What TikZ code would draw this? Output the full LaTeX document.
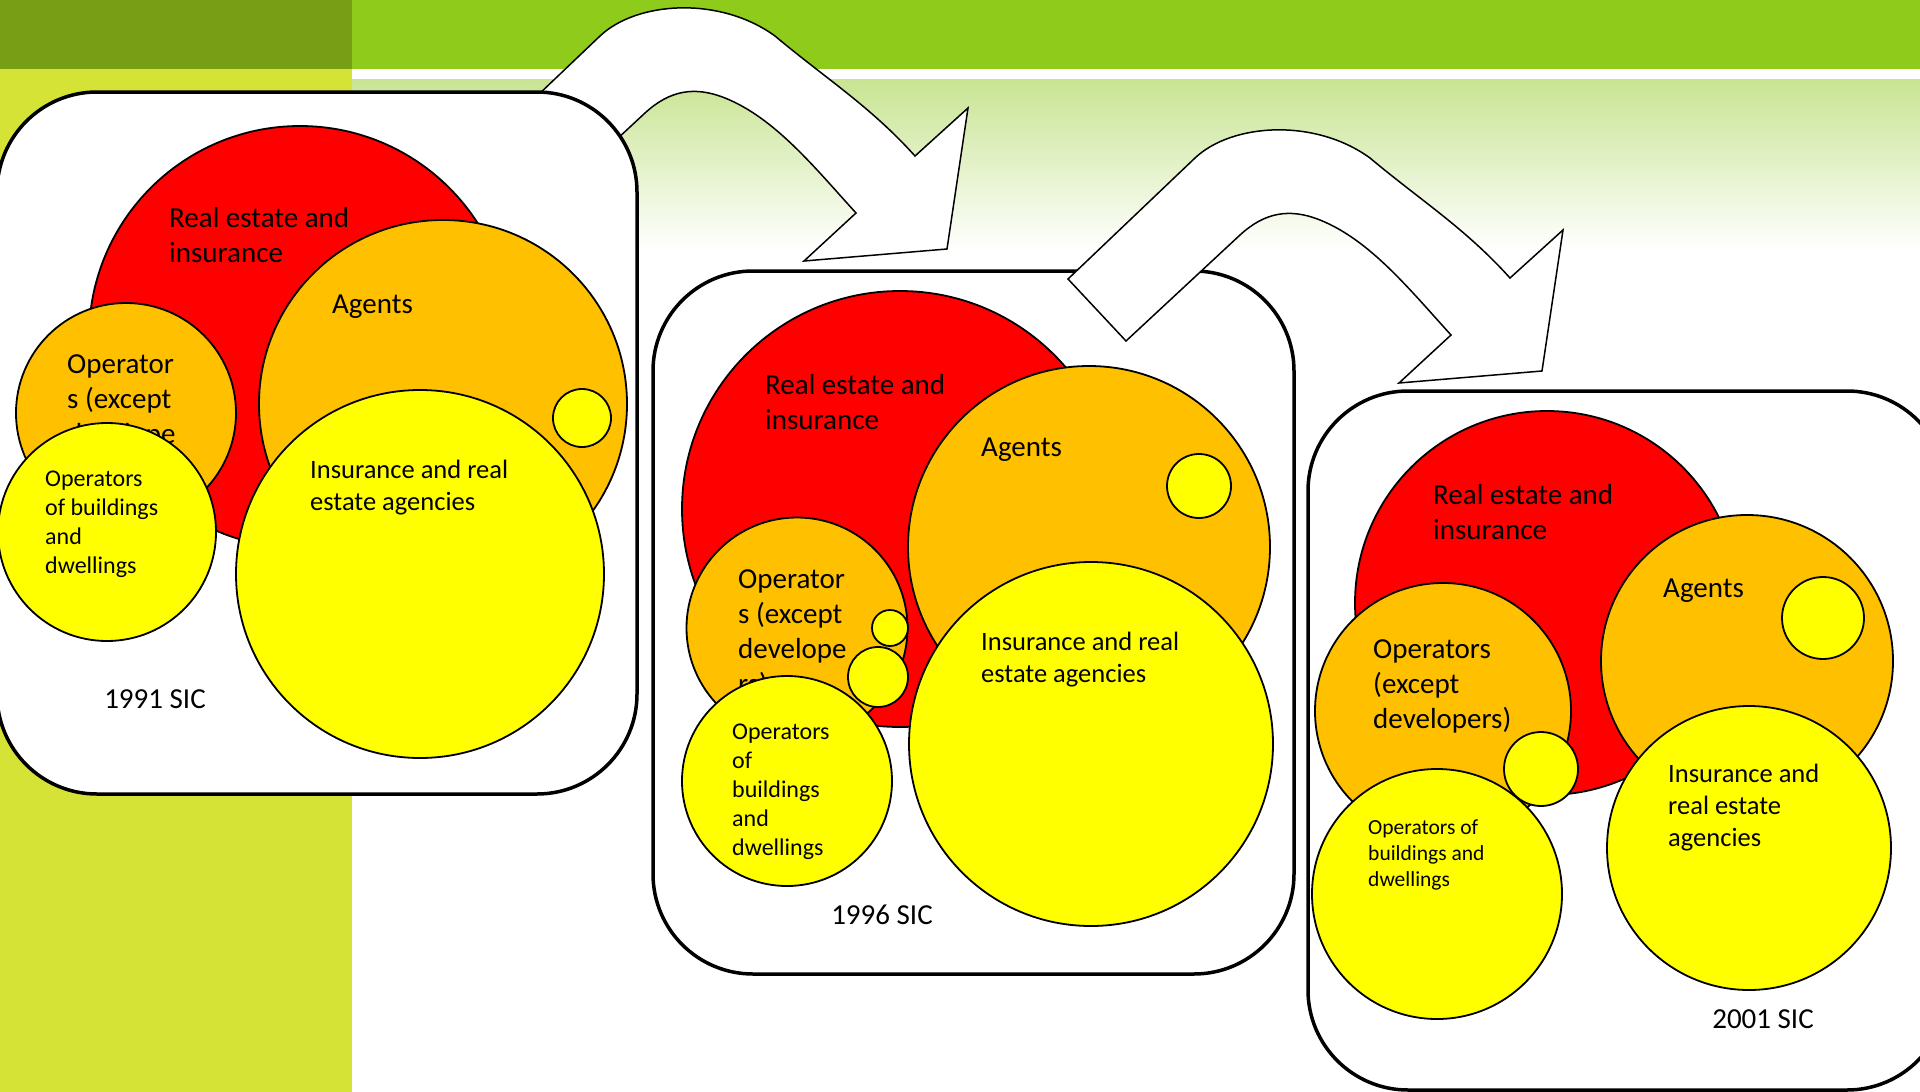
\documentclass[tikz,border=0pt]{standalone}
\usepackage{fontspec}
\setmainfont{Carlito}
\definecolor{olivebar}{RGB}{120,158,22}
\definecolor{limebar}{RGB}{143,203,26}
\definecolor{sidebar}{RGB}{213,227,55}
\definecolor{paleband}{RGB}{200,228,146}
\definecolor{discred}{RGB}{255,0,0}
\definecolor{discorange}{RGB}{255,192,0}
\definecolor{discyellow}{RGB}{255,255,0}
\newcommand\szBig{\fontsize{29}{35}\selectfont}
\newcommand\szMid{\fontsize{26.5}{32}\selectfont}
\newcommand\szSmall{\fontsize{24}{29}\selectfont}
\newcommand\szTiny{\fontsize{21.5}{26}\selectfont}
% multi-line labels are anchored at the baseline of their last line
\tikzset{
  panel/.style={draw=black, line width=3.5pt, fill=white, rounded corners=100pt},
  disc/.style={circle, draw=black, line width=1.8pt, inner sep=0pt, minimum size=#1},
  reddisc/.style={disc=#1, fill=discred},
  orangedisc/.style={disc=#1, fill=discorange},
  yellowdisc/.style={disc=#1, fill=discyellow},
  lbl/.style={anchor=base west, inner sep=0pt, align=left},
  siclbl/.style={anchor=base, inner sep=0pt, font=\szBig},
  uturn/.pic={
    \draw[fill=white, draw=black, line width=1.5pt, line join=miter]
      (0,0) -- (127,-121)
      .. controls (164,-156) and (247,-161) .. (302,-121)
      .. controls (352,-79) and (397,-51) .. (442,-1)
      -- (495,-49) -- (474,92) -- (331,104) -- (383,56)
      .. controls (342,11) and (302,-39) .. (252,-59)
      .. controls (222,-71) and (197,-67) .. (172,-44)
      -- (58,62) -- cycle;
  }
}
\begin{document}
\begin{tikzpicture}[x=1pt, y=-1pt]
\useasboundingbox (0,0) rectangle (1920,1092);
\begin{scope}
\clip (0,0) rectangle (1920,1092);
% slide backdrop
\fill[white] (0,0) rectangle (1920,1092);
\fill[olivebar] (0,0) rectangle (352,69);
\fill[limebar] (352,0) rectangle (1920,69);
\fill[sidebar] (0,69) rectangle (352,1092);
\shade[top color=paleband, bottom color=white] (352,79) rectangle (1920,250);

% first transition arrow (its tail sits behind the 1991 panel)
\pic at (473,157) {uturn};

% 1991 SIC panel
\draw[panel] (-3,92) rectangle (637,794);
\node[reddisc=422] (p1re) at (300,337) {};
\node[lbl, font=\szBig] (p1ret) at (169,262) {Real estate and\\insurance};
\node[orangedisc=368] (p1ag) at (443,404) {};
\node[lbl, font=\szBig] (p1agt) at (332,313) {Agents};
\node[yellowdisc=58] (p1dot) at (582,418) {};
\node[orangedisc=220] (p1op) at (126,413) {};
\node[lbl, font=\szBig] (p1opt) at (67,443) {Operator\\s (except\\develope};
\node[yellowdisc=218] (p1bd) at (107,532) {};
\node[lbl, font=\szSmall] (p1bdt) at (45,573) {Operators\\of buildings\\and\\dwellings};
\node[yellowdisc=368] (p1in) at (420,574) {};
\node[lbl, font=\szMid] (p1int) at (310,510) {Insurance and real\\estate agencies};
\node[siclbl] (p1sic) at (155,708) {1991 SIC};

% 1996 SIC panel
\draw[panel] (653,271) rectangle (1294,974);
\node[reddisc=436] (p2re) at (900,509) {};
\node[lbl, font=\szBig] (p2ret) at (765,429) {Real estate and\\insurance};
\node[orangedisc=362] (p2ag) at (1089,547) {};
\node[lbl, font=\szBig] (p2agt) at (981,456) {Agents};
\node[yellowdisc=64] (p2dot) at (1199,486) {};
\node[orangedisc=221] (p2op) at (797,628) {};
\node[lbl, font=\szBig] (p2opt) at (738,693) {Operator\\s (except\\develope\\rs)};
\node[yellowdisc=36] (p2dota) at (890,628) {};
\node[yellowdisc=60] (p2dotb) at (878,677) {};
\node[yellowdisc=210] (p2bd) at (787,781) {};
\node[lbl, font=\szSmall] (p2bdt) at (732,855) {Operators\\of\\buildings\\and\\dwellings};
\node[yellowdisc=364] (p2in) at (1091,744) {};
\node[lbl, font=\szMid] (p2int) at (981,682) {Insurance and real\\estate agencies};
\node[siclbl] (p2sic) at (882,924) {1996 SIC};

% second transition arrow, lying over the 1996 panel
\pic at (1068,279) {uturn};

% 2001 SIC panel
\draw[panel] (1308,391) rectangle (1947,1090);
\node[reddisc=384] (p3re) at (1547,603) {};
\node[lbl, font=\szBig] (p3ret) at (1433,539) {Real estate and\\insurance};
\node[orangedisc=292] (p3ag) at (1747,661) {};
\node[lbl, font=\szBig] (p3agt) at (1663,597) {Agents};
\node[yellowdisc=82] (p3dot) at (1823,618) {};
\node[orangedisc=256] (p3op) at (1443,711) {};
\node[lbl, font=\szBig] (p3opt) at (1373,728) {Operators\\(except\\developers)};
\node[yellowdisc=74] (p3dota) at (1541,769) {};
\node[yellowdisc=250] (p3bd) at (1437,894) {};
\node[lbl, font=\szTiny] (p3bdt) at (1368,886) {Operators of\\buildings and\\dwellings};
\node[yellowdisc=284] (p3in) at (1749,848) {};
\node[lbl, font=\szMid] (p3int) at (1668,846) {Insurance and\\real estate\\agencies};
\node[siclbl] (p3sic) at (1763,1028) {2001 SIC};
\end{scope}
\end{tikzpicture}
\end{document}
